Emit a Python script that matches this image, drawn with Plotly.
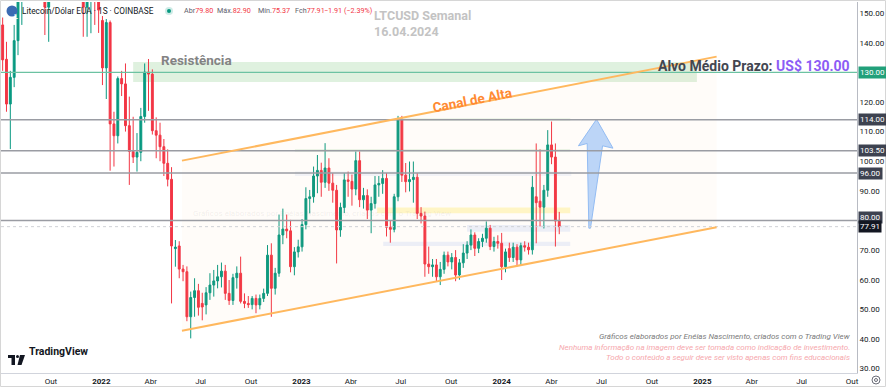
import plotly.graph_objects as go
import pandas as pd

# ---------------- data (weekly LTC/USD candles) ----------------
week_start = "2021-07-05"
opens = [146.0, 134.4, 119.3, 128.3, 140.7, 161.5, 180.0, 175.0, 178.0, 220.0,
         186.0, 176.0, 152.0, 170.0, 185.0, 190.0, 192.0, 200.0, 235.0, 240.0,
         215.0, 210.0, 152.0, 160.0, 165.0, 158.0, 147.5, 131.5, 146.8, 112.6,
         108.6, 127.9, 126.1, 112.0, 103.3, 101.4, 103.0, 115.1, 130.1, 129.4,
         110.3, 108.8, 104.9, 99.3, 93.9, 70.5, 71.4, 63.6, 62.7, 47.5,
         54.0, 56.3, 52.0, 51.5, 55.6, 58.2, 59.6, 61.0, 62.9, 55.4,
         53.0, 60.7, 62.2, 52.7, 52.0, 51.6, 53.7, 51.5, 53.7, 55.4,
         68.3, 57.1, 62.2, 75.1, 77.1, 76.5, 64.4, 69.4, 71.1, 78.6,
         87.4, 88.0, 95.0, 96.9, 92.9, 97.7, 92.6, 90.2, 76.8, 84.4,
         93.7, 93.2, 90.6, 100.2, 87.0, 88.4, 83.5, 85.7, 92.0, 92.5,
         94.2, 77.7, 77.0, 88.0, 113.9, 95.3, 93.1, 93.8, 94.6, 82.4,
         81.5, 65.3, 64.4, 65.0, 61.0, 63.5, 68.3, 66.0, 67.5, 61.6,
         65.7, 69.0, 71.7, 75.1, 70.6, 72.9, 74.0, 77.4, 71.2, 72.9,
         72.3, 64.4, 70.5, 67.5, 71.0, 66.7, 71.5, 71.0, 70.1, 88.0,
         86.5, 84.5, 90.2, 105.5, 101.4, 79.8]
highs = [148.5, 140.3, 130.5, 146.0, 163.0, 185.0, 190.0, 186.0, 230.0, 231.0,
         195.0, 180.0, 178.0, 190.0, 200.0, 205.0, 205.0, 240.0, 296.0, 245.0,
         230.0, 225.0, 170.0, 172.0, 172.0, 170.0, 149.0, 148.0, 147.5, 116.7,
         128.6, 130.5, 133.0, 121.8, 115.0, 109.5, 118.0, 133.0, 134.5, 131.0,
         114.8, 113.0, 107.5, 104.0, 98.0, 73.4, 73.0, 65.0, 64.5, 56.0,
         60.5, 58.6, 55.6, 57.5, 62.2, 63.3, 65.0, 65.8, 65.0, 59.9,
         62.0, 64.5, 67.8, 55.4, 54.5, 54.5, 55.0, 55.0, 57.0, 71.7,
         72.3, 64.0, 82.0, 84.0, 82.0, 80.2, 71.0, 73.5, 80.5, 91.2,
         90.3, 98.2, 102.1, 99.5, 106.1, 101.0, 96.0, 92.0, 86.0, 96.0,
         96.5, 95.5, 103.3, 103.3, 91.0, 90.5, 88.0, 95.0, 95.0, 97.0,
         96.0, 80.0, 89.0, 115.3, 115.3, 99.4, 99.9, 99.9, 96.0, 84.5,
         83.0, 71.2, 67.0, 67.0, 66.0, 69.5, 69.5, 69.0, 70.0, 67.0,
         72.0, 73.0, 77.0, 76.0, 74.0, 75.5, 79.7, 78.5, 74.5, 75.0,
         75.8, 70.5, 72.5, 72.5, 72.0, 72.5, 73.0, 72.5, 95.0, 106.0,
         104.0, 92.0, 110.5, 113.4, 106.0, 82.9]
lows = [130.5, 116.7, 104.1, 125.0, 135.8, 146.0, 165.0, 164.0, 172.0, 155.0,
        168.0, 142.6, 140.3, 165.0, 175.0, 180.0, 180.0, 195.0, 228.0, 195.0,
        198.0, 142.0, 142.0, 143.2, 146.0, 143.3, 125.7, 121.0, 96.8, 98.2,
        106.0, 122.0, 110.0, 92.0, 99.4, 96.5, 100.0, 113.0, 117.0, 109.0,
        101.0, 100.0, 95.0, 91.5, 52.0, 64.4, 60.5, 59.5, 46.0, 40.2,
        47.5, 47.9, 46.3, 48.3, 53.2, 54.3, 57.1, 57.4, 53.2, 51.5,
        51.5, 57.0, 52.0, 50.4, 50.5, 50.0, 48.7, 50.0, 52.5, 54.5,
        47.5, 55.0, 61.0, 72.0, 74.0, 62.5, 61.5, 67.5, 69.5, 77.0,
        82.4, 86.0, 89.2, 88.0, 91.0, 90.0, 86.0, 65.5, 74.5, 82.5,
        88.0, 85.0, 88.5, 84.5, 84.0, 80.5, 75.7, 84.0, 88.0, 89.0,
        74.6, 72.5, 76.0, 86.5, 93.0, 89.5, 89.8, 86.0, 80.5, 79.0,
        61.0, 62.0, 61.0, 59.5, 58.2, 62.0, 64.5, 63.5, 59.5, 60.0,
        64.0, 67.0, 70.0, 68.0, 69.0, 71.0, 72.5, 70.0, 69.5, 70.5,
        59.9, 62.5, 66.0, 66.0, 64.5, 65.0, 69.5, 68.5, 68.5, 72.3,
        78.0, 77.3, 88.0, 99.0, 71.2, 75.37]
closes = [134.2, 119.3, 128.3, 140.7, 161.5, 180.0, 175.0, 178.0, 220.0, 186.0,
          176.0, 152.0, 170.0, 185.0, 190.0, 192.0, 200.0, 235.0, 240.0, 215.0,
          210.0, 152.0, 160.0, 165.0, 158.0, 151.0, 131.5, 146.8, 112.6, 108.6,
          127.9, 126.1, 112.0, 103.3, 101.4, 103.0, 115.1, 130.1, 129.4, 110.3,
          108.8, 104.9, 99.3, 93.9, 71.4, 71.0, 63.6, 62.7, 47.5, 54.0,
          56.3, 50.7, 50.8, 55.6, 58.2, 59.6, 61.0, 62.9, 55.4, 53.0,
          60.7, 62.2, 52.7, 52.0, 51.6, 53.7, 51.5, 53.7, 55.4, 68.3,
          57.1, 62.2, 75.1, 77.1, 76.5, 64.4, 69.4, 71.1, 78.6, 87.4,
          88.0, 95.0, 96.9, 92.9, 97.7, 92.6, 90.2, 76.8, 84.4, 93.7,
          93.2, 90.6, 100.2, 87.0, 88.4, 83.5, 85.7, 92.0, 92.5, 94.2,
          77.7, 77.0, 88.0, 113.9, 95.3, 93.1, 93.8, 94.6, 82.4, 81.5,
          65.3, 64.4, 65.0, 61.0, 63.5, 68.3, 66.0, 67.5, 61.6, 65.7,
          69.0, 71.7, 75.1, 70.6, 72.9, 74.0, 77.4, 71.2, 72.9, 72.3,
          64.4, 69.4, 67.5, 71.0, 66.7, 71.5, 71.0, 70.1, 91.2, 86.0,
          84.5, 90.2, 105.5, 101.4, 79.8, 77.91]

dates = pd.date_range(week_start, periods=len(opens), freq="7D")

x_range = ["2021-07-02", "2025-10-10"]
y_range = [28.52, 153.74]

y_tick_vals = [30, 40, 50, 60, 70, 90, 100, 110, 120, 140, 150]
x_tick_dates = ["2021-10-01", "2022-01-01", "2022-04-01", "2022-07-01", "2022-10-01",
                "2023-01-01", "2023-04-01", "2023-07-01", "2023-10-01", "2024-01-01",
                "2024-04-01", "2024-07-01", "2024-10-01", "2025-01-01", "2025-04-01",
                "2025-07-01", "2025-10-01"]
x_tick_text = ["Out", "<b>2022</b>", "Abr", "Jul", "Out", "<b>2023</b>", "Abr", "Jul", "Out",
               "<b>2024</b>", "Abr", "Jul", "Out", "<b>2025</b>", "Abr", "Jul", "Out"]

gray_levels = [114.0, 103.5, 96.0, 80.0]
gray_level_labels = ["114.00", "103.50", "96.00", "80.00"]
target_level = 130.0
last_price = 77.91

legend_items = [("Abr", "79.80"), ("Máx.", "82.90"), ("Mín.", "75.37"), ("Fch", "77.91")]
change_text = "−1.91 (−2.39%)"

resist_zone = dict(x0="2022-02-28", x1="2024-12-22", y0=126.7, y1=133.5)
channel_dates = ["2022-05-28", "2025-01-27"]
channel_upper = [100.2, 135.3]
channel_lower = [42.8, 77.7]

arrow_dates = ["2024-06-08", "2024-06-05", "2024-05-20", "2024-06-22",
               "2024-07-22", "2024-07-03", "2024-06-11", "2024-06-08"]
arrow_values = [77.4, 106.0, 105.2, 114.15, 104.4, 105.2, 77.4, 77.4]

bands = [  # faint drawing zones
    ("2023-05-19", "2024-05-05", 82.4, 84.4, "rgba(255,232,80,0.30)"),
    ("2023-10-30", "2024-05-05", 76.2, 78.5, "rgba(200,215,245,0.35)"),
    ("2023-05-30", "2024-05-05", 71.4, 72.8, "rgba(200,215,245,0.35)"),
    ("2022-12-20", "2024-05-07", 95.0, 96.5, "rgba(205,215,245,0.25)"),
    ("2022-12-20", "2024-05-05", 103.2, 104.1, "rgba(140,200,140,0.18)"),
    ("2023-06-20", "2024-05-05", 113.7, 114.5, "rgba(140,200,140,0.18)"),
]

UP = "#089981"
DOWN = "#f23645"
FONT = "Roboto"

fig = go.Figure()

# channel fill (parallelogram)
fig.add_trace(go.Scatter(
    x=[channel_dates[0], channel_dates[1], channel_dates[1], channel_dates[0], channel_dates[0]],
    y=[channel_lower[0], channel_lower[1], channel_upper[1], channel_upper[0], channel_lower[0]],
    mode="lines", fill="toself", fillcolor="rgba(255,170,80,0.035)",
    line=dict(width=0), hoverinfo="skip", showlegend=False))

fig.add_trace(go.Candlestick(
    x=dates, open=opens, high=highs, low=lows, close=closes,
    increasing=dict(line=dict(color=UP, width=1), fillcolor=UP),
    decreasing=dict(line=dict(color=DOWN, width=1), fillcolor=DOWN),
    showlegend=False, hoverinfo="skip"))

# blue arrow
fig.add_trace(go.Scatter(
    x=arrow_dates, y=arrow_values, mode="lines", fill="toself",
    fillcolor="rgba(160,197,246,0.7)", line=dict(color="#93bcf3", width=1),
    hoverinfo="skip", showlegend=False))

shapes = []
# resistance zone
shapes.append(dict(type="rect", xref="x", yref="y", layer="below",
                   x0=resist_zone["x0"], x1=resist_zone["x1"],
                   y0=resist_zone["y0"], y1=resist_zone["y1"],
                   fillcolor="rgba(110,190,110,0.22)", line=dict(width=0)))
for (d0, d1, v0, v1, col) in bands:
    shapes.append(dict(type="rect", xref="x", yref="y", layer="below",
                       x0=d0, x1=d1, y0=v0, y1=v1, fillcolor=col, line=dict(width=0)))
# horizontal levels
for lv in gray_levels:
    shapes.append(dict(type="line", xref="paper", yref="y", x0=0, x1=1, y0=lv, y1=lv,
                       line=dict(color="#9a9ca3", width=1.5)))
shapes.append(dict(type="line", xref="paper", yref="y", x0=0, x1=1,
                   y0=target_level, y1=target_level, line=dict(color="#6cc2a2", width=1.3)))
shapes.append(dict(type="line", xref="paper", yref="y", x0=0, x1=1,
                   y0=last_price, y1=last_price, line=dict(color="#cfd1d6", width=1, dash="dot")))
# channel lines
shapes.append(dict(type="line", xref="x", yref="y", x0=channel_dates[0], x1=channel_dates[1],
                   y0=channel_upper[0], y1=channel_upper[1], line=dict(color="#ffb85e", width=2)))
shapes.append(dict(type="line", xref="x", yref="y", x0=channel_dates[0], x1=channel_dates[1],
                   y0=channel_lower[0], y1=channel_lower[1], line=dict(color="#ffb85e", width=2)))

# helpers for page-positioned decorations (paper coords of plot area 1..857 x 2..373)
def PX(px):
    return (px - 1) / 856.0

def PY(py):
    return (373 - py) / 371.0

# LTC logo and live dot
shapes.append(dict(type="circle", xref="paper", yref="paper",
                   x0=PX(6.5), x1=PX(17.5), y0=PY(16.5), y1=PY(5.5),
                   fillcolor="#3b6bb3", line=dict(width=0)))
shapes.append(dict(type="circle", xref="paper", yref="paper",
                   x0=PX(165), x1=PX(173), y0=PY(15), y1=PY(7),
                   fillcolor="rgba(8,153,129,0.2)", line=dict(width=0)))
shapes.append(dict(type="circle", xref="paper", yref="paper",
                   x0=PX(167), x1=PX(171), y0=PY(13), y1=PY(9),
                   fillcolor=UP, line=dict(width=0)))
# TradingView logo
shapes.append(dict(type="rect", xref="paper", yref="paper", x0=PX(8), x1=PX(15),
                   y0=PY(358), y1=PY(355), fillcolor="#131722", line=dict(width=0)))
shapes.append(dict(type="rect", xref="paper", yref="paper", x0=PX(11.5), x1=PX(15),
                   y0=PY(365), y1=PY(355), fillcolor="#131722", line=dict(width=0)))
shapes.append(dict(type="circle", xref="paper", yref="paper", x0=PX(16), x1=PX(19),
                   y0=PY(358), y1=PY(355), fillcolor="#131722", line=dict(width=0)))
shapes.append(dict(type="path", xref="paper", yref="paper",
                   path=f"M {PX(20)},{PY(355)} L {PX(25)},{PY(355)} L {PX(21.5)},{PY(365)} L {PX(17.5)},{PY(365)} Z",
                   fillcolor="#131722", line=dict(width=0)))
# gear icon
shapes.append(dict(type="circle", xref="paper", yref="paper",
                   x0=PX(872), x1=PX(880), y0=PY(384), y1=PY(376),
                   line=dict(color="#6a6d78", width=1)))
shapes.append(dict(type="circle", xref="paper", yref="paper",
                   x0=PX(874.5), x1=PX(877.5), y0=PY(381.5), y1=PY(378.5),
                   line=dict(color="#6a6d78", width=1)))
# outer frame
shapes.append(dict(type="rect", xref="paper", yref="paper",
                   x0=PX(0.5), x1=PX(885.5), y0=PY(386.5), y1=PY(0.5),
                   line=dict(color="#d6d6d6", width=1)))

annotations = []
red = DOWN
lab = "#5d606b"
annotations.append(dict(xref="paper", yref="paper", x=PX(12), y=PY(11), text="<b>Ł</b>",
                        showarrow=False, font=dict(family=FONT, size=7, color="white")))
annotations.append(dict(xref="paper", yref="paper", x=PX(20), y=PY(11), xanchor="left",
                        yanchor="middle", showarrow=False,
                        text="Litecoin/Dólar EUA · 1S · COINBASE",
                        font=dict(family=FONT, size=8.3, color="#131722")))
legend_x = [182, 215, 256, 293]
for (lbl, val), lx in zip(legend_items, legend_x):
    annotations.append(dict(xref="paper", yref="paper", x=PX(lx), y=PY(11), xanchor="left",
                            yanchor="middle", showarrow=False,
                            text=f"<span style='color:{lab}'>{lbl}</span>{val}",
                            font=dict(family=FONT, size=7.2, color=red)))
annotations.append(dict(xref="paper", yref="paper", x=PX(322), y=PY(11), xanchor="left",
                        yanchor="middle", showarrow=False, text=change_text,
                        font=dict(family=FONT, size=7.2, color=red)))
annotations.append(dict(xref="paper", yref="paper", x=PX(372), y=PY(6), xanchor="left",
                        yanchor="top", align="left", showarrow=False,
                        text="<b>LTCUSD Semanal<br>16.04.2024</b>",
                        font=dict(family=FONT, size=12.5, color="#c3c3c3")))
annotations.append(dict(xref="x", yref="y", x="2022-06-23", y=134.3, showarrow=False,
                        text="<b>Resistência</b>",
                        font=dict(family=FONT, size=13.5, color="#838383")))
annotations.append(dict(xref="x", yref="y", x="2023-11-07", y=120.7, showarrow=False,
                        text="<b>Canal de Alta</b>", textangle=-11,
                        font=dict(family=FONT, size=13.5, color="#ff8a33")))
annotations.append(dict(xref="paper", yref="y", x=PX(852), y=132.0, xanchor="right",
                        showarrow=False,
                        text="<b><span style='color:#434651'>Alvo Médio Prazo: </span>"
                             "<span style='color:#8c5cf5'>US$ 130.00</span></b>",
                        font=dict(family=FONT, size=14, color="#434651")))
annotations.append(dict(xref="paper", yref="paper", x=PX(322), y=PY(213), showarrow=False,
                        text="Gráficos elaborados por Enéias Nascimento, criados com o Trading View",
                        font=dict(family=FONT, size=8, color="rgba(120,120,120,0.10)")))
# bottom notes
annotations.append(dict(xref="paper", yref="paper", x=PX(852), y=PY(343), xanchor="right",
                        showarrow=False,
                        text="<i>Gráficos elaborados por Enéias Nascimento, criados com o Trading View</i>",
                        font=dict(family=FONT, size=8, color="#7a7a7a")))
annotations.append(dict(xref="paper", yref="paper", x=PX(852), y=PY(354), xanchor="right",
                        showarrow=False,
                        text="<i>Nenhuma informação na imagem deve ser tomada como indicação de investimento.</i>",
                        font=dict(family=FONT, size=8, color="#f6a8ad")))
annotations.append(dict(xref="paper", yref="paper", x=PX(852), y=PY(364), xanchor="right",
                        showarrow=False,
                        text="<i>Todo o conteúdo a seguir deve ser visto apenas com fins educacionais</i>",
                        font=dict(family=FONT, size=8, color="#f6a8ad")))
annotations.append(dict(xref="paper", yref="paper", x=PX(27), y=PY(360), xanchor="left",
                        showarrow=False, text="<b>TradingView</b>",
                        font=dict(family=FONT, size=10.5, color="#131722")))
# price-scale boxes
for lv, txt in zip(gray_levels, gray_level_labels):
    annotations.append(dict(xref="paper", yref="y", x=1, y=lv, xanchor="left", xshift=1,
                            yshift=3 if lv == 80.0 else 0, showarrow=False, text=txt,
                            bgcolor="#3d4250", borderpad=1,
                            font=dict(family=FONT, size=8, color="white")))
annotations.append(dict(xref="paper", yref="y", x=1, y=last_price, xanchor="left", xshift=1,
                        showarrow=False, text=f"{last_price:.2f}", bgcolor="#131722", borderpad=1,
                        font=dict(family=FONT, size=8, color="white")))
annotations.append(dict(xref="paper", yref="y", x=1, y=target_level, xanchor="left", xshift=1,
                        showarrow=False, text=f"{target_level:.2f}", bgcolor="#22a07a", borderpad=1,
                        font=dict(family=FONT, size=8, color="white")))

fig.update_layout(
    width=886, height=387,
    margin=dict(l=1, r=29, t=2, b=14),
    paper_bgcolor="white", plot_bgcolor="white",
    showlegend=False, hovermode=False,
    shapes=shapes, annotations=annotations,
    font=dict(family=FONT, size=8, color="#131722"),
    xaxis=dict(type="date", range=x_range, rangeslider=dict(visible=False),
               showgrid=False, zeroline=False, tickvals=x_tick_dates, ticktext=x_tick_text,
               ticks="", showline=True, linecolor="#d1d4dc", linewidth=1,
               tickfont=dict(family=FONT, size=8, color="#131722")),
    yaxis=dict(range=y_range, side="right", showgrid=False, zeroline=False,
               tickvals=y_tick_vals, ticktext=[f"{v:.2f}" for v in y_tick_vals],
               ticks="", showline=True, linecolor="#b8bbc3", linewidth=1,
               tickfont=dict(family=FONT, size=8, color="#131722")),
)

fig.write_html("out.html", config={"displayModeBar": False},
               post_script="document.body.style.margin='0';document.body.style.overflow='hidden';")
